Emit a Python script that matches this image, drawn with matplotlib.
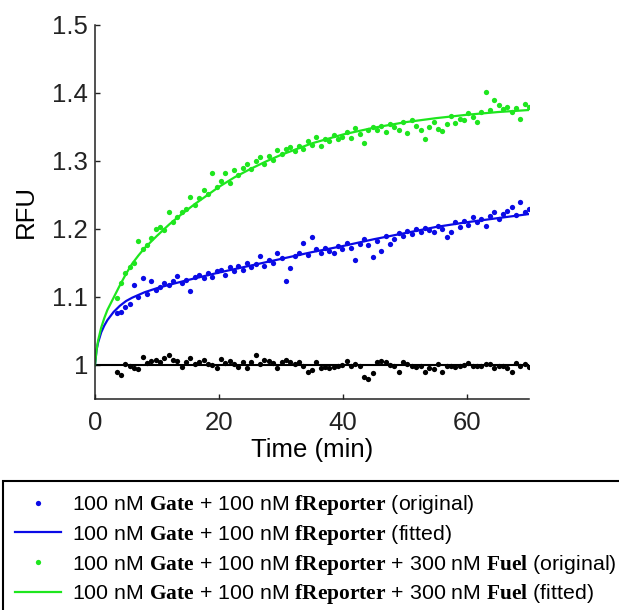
import numpy as np
import matplotlib
matplotlib.use('Agg')
import matplotlib.pyplot as plt

plt.rcParams['font.family'] = ['Liberation Sans', 'DejaVu Sans']
plt.rcParams['mathtext.fontset'] = 'custom'
plt.rcParams['mathtext.rm'] = 'Liberation Sans'
plt.rcParams['mathtext.bf'] = 'Liberation Serif:bold'

# sampling times of the measured points (min)
t_obs = [3.5, 4.2, 4.9, 5.6, 6.3, 7.0, 7.7, 8.4, 9.1, 9.8,
         10.5, 11.2, 11.9, 12.6, 13.3, 14.0, 14.7, 15.4, 16.1, 16.8,
         17.5, 18.2, 18.9, 19.6, 20.3, 21.0, 21.7, 22.4, 23.1, 23.8,
         24.5, 25.2, 25.9, 26.6, 27.3, 28.0, 28.7, 29.4, 30.1, 30.8,
         31.5, 32.2, 32.9, 33.6, 34.3, 35.0, 35.7, 36.4, 37.1, 37.8,
         38.5, 39.2, 39.9, 40.6, 41.3, 42.0, 42.7, 43.4, 44.1, 44.8,
         45.5, 46.2, 46.9, 47.6, 48.3, 49.0, 49.7, 50.4, 51.1, 51.8,
         52.5, 53.2, 53.9, 54.6, 55.3, 56.0, 56.7, 57.4, 58.1, 58.8,
         59.5, 60.2, 60.9, 61.6, 62.3, 63.0, 63.7, 64.4, 65.1, 65.8,
         66.5, 67.2, 67.9, 68.6, 69.3, 70.0]

green_obs = [1.098, 1.120, 1.135, 1.144, 1.150, 1.183, 1.170, 1.176, 1.187, 1.200,
             1.203, 1.198, 1.225, 1.210, 1.218, 1.225, 1.230, 1.247, 1.236, 1.245,
             1.258, 1.252, 1.283, 1.262, 1.270, 1.282, 1.268, 1.287, 1.280, 1.289,
             1.296, 1.288, 1.300, 1.306, 1.295, 1.308, 1.302, 1.316, 1.310, 1.318,
             1.320, 1.314, 1.322, 1.318, 1.330, 1.324, 1.335, 1.322, 1.333, 1.329,
             1.338, 1.332, 1.336, 1.343, 1.334, 1.348, 1.340, 1.327, 1.345, 1.350,
             1.346, 1.352, 1.342, 1.355, 1.350, 1.345, 1.358, 1.341, 1.360, 1.352,
             1.345, 1.332, 1.350, 1.358, 1.347, 1.344, 1.355, 1.366, 1.356, 1.362,
             1.360, 1.370, 1.365, 1.358, 1.372, 1.401, 1.375, 1.390, 1.383, 1.376,
             1.380, 1.372, 1.378, 1.362, 1.384, 1.380]

blue_obs = [1.076, 1.078, 1.085, 1.090, 1.117, 1.100, 1.128, 1.105, 1.124, 1.110,
            1.115, 1.120, 1.118, 1.123, 1.131, 1.120, 1.125, 1.109, 1.130, 1.133,
            1.128, 1.135, 1.130, 1.138, 1.140, 1.133, 1.144, 1.138, 1.146, 1.140,
            1.150, 1.144, 1.148, 1.160, 1.145, 1.155, 1.150, 1.165, 1.158, 1.124,
            1.142, 1.160, 1.165, 1.179, 1.162, 1.188, 1.170, 1.165, 1.172, 1.168,
            1.165, 1.175, 1.170, 1.180, 1.172, 1.154, 1.178, 1.185, 1.176, 1.159,
            1.182, 1.168, 1.190, 1.178, 1.186, 1.194, 1.190, 1.197, 1.193, 1.200,
            1.195, 1.202, 1.198, 1.196, 1.205, 1.200, 1.188, 1.196, 1.210, 1.203,
            1.212, 1.206, 1.218, 1.210, 1.215, 1.205, 1.219, 1.225, 1.215, 1.222,
            1.227, 1.233, 1.220, 1.240, 1.225, 1.230]

black_obs = [0.989, 0.986, 1.002, 0.998, 0.995, 0.994, 1.012, 1.003, 1.006, 1.008,
             1.004, 1.010, 1.014, 1.008, 1.006, 0.997, 1.004, 1.010, 1.001, 1.005,
             1.008, 1.002, 1.000, 0.995, 1.009, 1.003, 1.006, 1.002, 0.997, 1.004,
             0.996, 1.005, 1.014, 1.002, 1.008, 1.006, 1.003, 0.995, 1.004, 1.007,
             1.005, 1.002, 1.004, 0.998, 0.990, 0.992, 1.004, 0.996, 0.997, 0.996,
             0.997, 0.998, 1.000, 1.006, 0.999, 1.002, 0.998, 0.983, 0.980, 0.988,
             1.005, 1.006, 1.004, 1.000, 0.998, 0.990, 1.005, 1.001, 0.999, 0.997,
             0.998, 0.990, 0.996, 0.994, 1.002, 0.990, 0.998, 0.999, 0.997, 0.999,
             1.000, 1.003, 0.998, 0.999, 0.998, 1.001, 1.002, 0.996, 0.999, 0.998,
             0.995, 0.990, 1.003, 0.998, 1.001, 0.997]

# fitted curves
t_green_fit = [0, 0.25, 0.5, 1, 1.5, 2, 3, 4, 5, 6, 7, 8, 9, 10, 12, 14, 16, 18,
               20, 22.5, 25, 27.5, 30, 35, 40, 45, 50, 55, 60, 65, 70]
green_fit = [1.0, 1.022, 1.036, 1.055, 1.069, 1.081, 1.099, 1.117, 1.134, 1.149,
             1.161, 1.172, 1.181, 1.19, 1.207, 1.222, 1.236, 1.249, 1.262, 1.276,
             1.288, 1.299, 1.309, 1.326, 1.339, 1.349, 1.357, 1.363, 1.368, 1.372, 1.375]

t_blue_fit = [0, 0.25, 0.5, 1, 1.5, 2, 3, 4, 5, 6, 7, 8, 10, 12, 15, 20, 25, 30,
              35, 40, 45, 50, 55, 60, 65, 70]
blue_fit = [1.0, 1.022, 1.033, 1.048, 1.058, 1.066, 1.078, 1.087, 1.094, 1.099,
            1.103, 1.107, 1.113, 1.118, 1.125, 1.136, 1.146, 1.156, 1.166, 1.175,
            1.185, 1.194, 1.203, 1.21, 1.216, 1.222]

t_black_fit = [0, 70]
black_fit = [1.0, 1.0]

labels = [r'100 nM $\mathbf{Gate}$ + 100 nM $\mathbf{fReporter}$ (original)',
          r'100 nM $\mathbf{Gate}$ + 100 nM $\mathbf{fReporter}$ (fitted)',
          r'100 nM $\mathbf{Gate}$ + 100 nM $\mathbf{fReporter}$ + 300 nM $\mathbf{Fuel}$ (original)',
          r'100 nM $\mathbf{Gate}$ + 100 nM $\mathbf{fReporter}$ + 300 nM $\mathbf{Fuel}$ (fitted)']

blue = '#0a0ae6'
green = '#1ee61e'

fig = plt.figure(figsize=(6.19, 6.10), dpi=100)
ax = fig.add_axes([95 / 619, 1 - 399 / 610, 434 / 619, 374 / 610])

ax.plot(t_black_fit, black_fit, color='black', lw=1.5)
ax.plot(t_obs, black_obs, 'o', color='black', ms=3.8, mec='none')
h1, = ax.plot(t_obs, blue_obs, 'o', color=blue, ms=3.8, mec='none')
h3, = ax.plot(t_obs, green_obs, 'o', color=green, ms=3.8, mec='none')
h2, = ax.plot(t_blue_fit, blue_fit, color=blue, lw=1.6)
h4, = ax.plot(t_green_fit, green_fit, color=green, lw=1.6)

ax.set_xlim(0, 70)
ax.set_ylim(0.95, 1.5)
ax.set_xticks([0, 20, 40, 60])
ax.set_yticks([1, 1.1, 1.2, 1.3, 1.4, 1.5])
ax.set_yticklabels(['1', '1.1', '1.2', '1.3', '1.4', '1.5'])
ax.spines['top'].set_visible(False)
ax.spines['right'].set_visible(False)
for s in ['left', 'bottom']:
    ax.spines[s].set_linewidth(1.1)
    ax.spines[s].set_color('#222222')
ax.tick_params(direction='in', length=3.5, width=1.0, labelsize=18.5, colors='#222222')
ax.tick_params(axis='x', pad=9)
ax.tick_params(axis='y', pad=5)
ax.set_xlabel('Time (min)', fontsize=18.5, labelpad=2)
ax.set_ylabel('RFU', fontsize=18.5, labelpad=10)

leg = fig.legend([h1, h2, h3, h4], labels, loc='upper left',
                 bbox_to_anchor=(3 / 619, 1 - 481 / 610), borderaxespad=0,
                 fontsize=15.4, numpoints=1, handlelength=2.15, handletextpad=0.5,
                 borderpad=0.58, labelspacing=0.26, fancybox=False, framealpha=1)
leg.get_frame().set_edgecolor('black')
leg.get_frame().set_linewidth(1.5)

fig.savefig('out.png', dpi=100)
